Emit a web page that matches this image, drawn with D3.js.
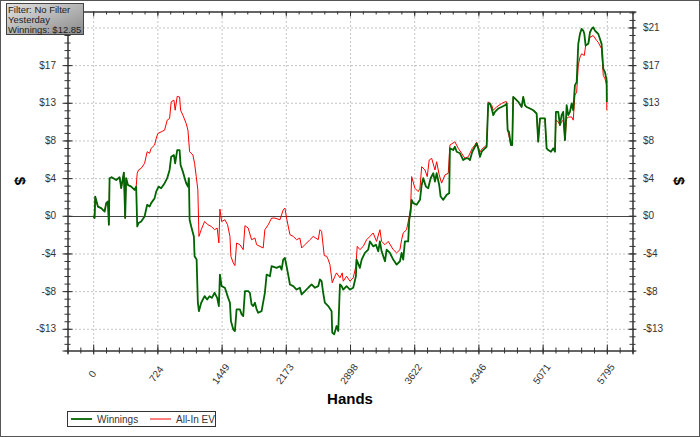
<!DOCTYPE html>
<html>
<head>
<meta charset="utf-8">
<script src="https://d3js.org/d3.v7.min.js"></script>
<style>
  body { margin: 0; background: #fff; }
  text { font-family: "Liberation Sans", Arial, sans-serif; }
  .axis path, .axis line { stroke: #333; }
  .grid line { stroke: #888; stroke-dasharray: 1,3; }
  .grid path { display: none; }
</style>
</head>
<body>
<svg id="chart" width="700" height="437"></svg>
<script>
// Chart data (hands, $)
var winnings = [
  [0,0],[16,-0.26],[23,2.17],[53,1.04],[90,0.87],[129,0.48],[147,1.43],[166,1.61],[177,-1.01],[185,4.24],
  [208,4.35],[260,4.04],[298,4.35],[316,3.11],[346,4.87],[361,-0.26],[372,4.24],[392,3.48],[429,3.29],[467,2.92],
  [485,3.29],[497,-1.2],[512,-0.82],[542,-0.64],[580,-0.08],[609,1.24],[636,1.04],[654,1.43],[693,1.99],[711,2.73],
  [738,3.29],[767,3.11],[806,3.68],[835,4.24],[862,5.17],[880,6.66],[911,6.85],[925,5.92],[948,7.42],[975,7.42],
  [986,5.73],[1012,4.98],[1049,3.68],[1069,3.29],[1080,4.24],[1088,-0.45],[1106,-1.2],[1136,-2.33],[1144,-4.57],[1167,-4.94],
  [1181,-9.81],[1193,-10.76],[1219,-9.81],[1257,-9.07],[1286,-9.45],[1313,-9.07],[1339,-9.26],[1370,-8.69],[1399,-9.26],[1418,-10.19],
  [1430,-6.63],[1449,-7.94],[1486,-8.12],[1523,-9.26],[1543,-9.81],[1554,-11.88],[1580,-12.81],[1599,-13.0],[1618,-10.56],[1655,-10.56],
  [1675,-11.12],[1693,-11.31],[1712,-8.51],[1749,-8.51],[1768,-8.69],[1787,-10.0],[1805,-10.19],[1825,-9.81],[1844,-10.56],[1862,-10.94],
  [1900,-10.76],[1937,-8.69],[1957,-6.63],[1994,-6.82],[2013,-5.69],[2069,-5.88],[2107,-5.69],[2126,-6.07],[2144,-4.94],[2163,-4.76],
  [2182,-5.69],[2200,-6.63],[2220,-7.75],[2257,-7.94],[2295,-8.32],[2332,-8.12],[2352,-8.88],[2389,-8.51],[2426,-8.12],[2464,-7.75],
  [2502,-8.12],[2539,-7.94],[2558,-7.19],[2577,-7.38],[2595,-8.69],[2614,-9.81],[2652,-10.19],[2690,-10.76],[2697,-13.18],[2719,-13.37],
  [2746,-12.44],[2765,-13.0],[2784,-7.75],[2803,-7.94],[2821,-8.32],[2859,-7.94],[2897,-8.32],[2934,-8.12],[2964,-6.82],[2972,-4.94],
  [3009,-5.88],[3029,-4.94],[3066,-4.19],[3103,-3.82],[3122,-2.89],[3159,-3.45],[3190,-3.26],[3216,-4.01],[3235,-2.89],[3254,-4.01],
  [3292,-5.13],[3311,-3.82],[3348,-4.19],[3385,-4.94],[3424,-5.51],[3461,-5.13],[3480,-4.19],[3498,-4.94],[3517,-2.89],[3554,-2.89],
  [3566,-0.45],[3582,0.48],[3593,1.8],[3611,1.43],[3649,1.24],[3687,1.8],[3706,3.48],[3724,4.24],[3754,3.29],[3780,3.11],
  [3807,4.24],[3837,4.8],[3856,3.86],[3875,4.8],[3904,3.48],[3920,2.17],[3950,1.8],[3988,2.36],[4017,2.55],[4025,7.61],
  [4062,7.42],[4081,7.79],[4101,7.23],[4138,7.05],[4175,6.29],[4206,6.48],[4232,6.48],[4251,6.29],[4277,7.23],[4307,7.79],
  [4326,8.17],[4344,7.61],[4364,6.66],[4383,7.23],[4420,7.61],[4439,7.79],[4457,12.67],[4476,12.67],[4496,12.1],[4514,11.35],
  [4533,11.72],[4552,11.91],[4570,12.1],[4608,12.28],[4646,12.47],[4665,12.67],[4676,9.66],[4691,9.47],[4713,7.98],[4728,7.98],
  [4739,13.42],[4758,13.24],[4796,12.86],[4834,12.28],[4852,13.42],[4871,12.47],[4890,12.28],[4928,12.1],[4965,11.91],[5003,11.54],
  [5021,8.35],[5041,10.98],[5097,10.98],[5116,7.61],[5134,7.42],[5165,7.23],[5191,7.61],[5210,7.23],[5221,11.72],[5247,11.72],
  [5266,10.23],[5285,11.35],[5303,11.72],[5323,8.54],[5342,12.47],[5360,11.35],[5379,11.72],[5398,12.67],[5416,11.91],[5435,14.72],
  [5455,15.09],[5473,19.4],[5492,20.53],[5511,21.09],[5529,20.9],[5541,20.53],[5556,19.21],[5586,19.4],[5605,20.71],[5624,21.09],
  [5642,21.27],[5661,20.9],[5680,20.71],[5698,20.53],[5717,19.97],[5736,19.4],[5755,16.6],[5774,16.21],[5793,15.28],[5795,12.85]
];

var allInEV = [
  [0,0],[16,-0.26],[23,2.17],[53,1.04],[90,0.87],[129,0.48],[147,1.43],[166,1.61],[177,-1.01],[185,4.24],
  [208,4.35],[260,4.04],[298,4.35],[316,3.11],[346,4.87],[361,-0.26],[372,4.24],[392,3.48],[429,3.29],[467,2.92],
  [485,3.29],[497,4.8],[512,5.17],[542,5.36],[580,5.92],[609,7.23],[636,7.05],[654,7.61],[693,7.98],[711,8.73],
  [730,9.29],[767,9.47],[806,9.67],[835,10.79],[862,10.98],[880,12.86],[911,13.05],[925,11.91],[948,13.48],[975,13.4],
  [986,11.91],[1012,11.35],[1049,10.42],[1069,9.67],[1088,7.23],[1125,6.85],[1144,5.92],[1163,4.42],[1181,2.92],[1193,-2.33],
  [1219,-1.57],[1257,-0.64],[1294,-1.01],[1332,-1.2],[1370,-1.57],[1399,-1.38],[1418,-3.07],[1430,0.75],[1449,-0.64],[1486,-0.45],
  [1516,-1.01],[1543,-2.33],[1554,-4.57],[1580,-5.32],[1599,-5.62],[1618,-3.07],[1655,-3.26],[1693,-3.82],[1712,-1.12],[1749,-1.38],
  [1787,-2.7],[1825,-2.51],[1844,-3.26],[1881,-3.45],[1918,-3.63],[1937,-1.57],[1975,-1.01],[2013,-0.26],[2050,-0.26],[2107,-0.45],
  [2144,0.67],[2163,0.87],[2182,-0.26],[2220,-2.13],[2257,-2.33],[2295,-2.7],[2332,-2.51],[2352,-3.63],[2389,-3.26],[2445,-2.7],
  [2483,-2.33],[2539,-2.7],[2558,-1.57],[2577,-1.76],[2607,-4.49],[2634,-4.57],[2652,-4.94],[2671,-5.51],[2697,-7.56],[2727,-6.82],
  [2746,-6.44],[2784,-7.0],[2810,-6.44],[2821,-7.38],[2859,-6.82],[2897,-7.38],[2934,-7.0],[2964,-5.69],[2979,-3.45],[3009,-3.82],
  [3047,-3.45],[3085,-2.7],[3122,-2.33],[3159,-1.94],[3197,-2.89],[3235,-1.57],[3254,-2.89],[3292,-3.26],[3329,-2.89],[3385,-3.82],
  [3424,-4.19],[3461,-3.82],[3480,-2.7],[3498,-1.94],[3536,-1.57],[3566,-0.08],[3582,1.04],[3593,4.42],[3630,3.11],[3667,2.73],
  [3687,3.11],[3706,5.54],[3743,5.17],[3769,4.42],[3791,6.29],[3819,6.48],[3856,5.17],[3875,6.1],[3904,4.61],[3931,3.68],
  [3969,4.61],[4006,4.8],[4025,7.98],[4081,8.35],[4119,7.61],[4157,7.05],[4194,6.48],[4232,6.66],[4277,7.61],[4307,7.98],
  [4326,8.3],[4344,7.79],[4364,7.2],[4383,7.5],[4439,7.98],[4457,12.86],[4496,12.47],[4514,11.91],[4552,12.28],[4608,12.67],
  [4646,12.86],[4665,12.86],[4676,9.66],[4713,7.98],[4728,7.98],[4739,13.42],[4758,13.24],[4796,12.86],[4834,12.28],[4852,13.42],
  [4871,12.47],[4890,12.28],[4928,12.1],[4965,11.91],[5003,11.54],[5021,8.35],[5041,10.98],[5097,10.98],[5116,7.61],[5134,7.42],
  [5165,7.23],[5191,7.61],[5210,7.23],[5221,10.79],[5247,10.6],[5266,10.23],[5285,10.6],[5303,10.79],[5323,8.54],[5342,10.98],
  [5360,11.12],[5398,11.16],[5416,10.79],[5435,13.6],[5455,13.97],[5473,16.97],[5492,17.9],[5511,18.28],[5541,18.09],[5556,19.21],
  [5586,19.4],[5605,20.15],[5642,20.34],[5680,19.78],[5698,19.58],[5736,18.84],[5755,15.84],[5774,15.47],[5793,14.72],[5795,11.91]
];

var xTickValues = [0, 724, 1449, 2173, 2898, 3622, 4346, 5071, 5795];
var yTickValues = [-12.75, -8.5, -4.25, 0, 4.25, 8.5, 12.75, 17, 21.25];
var yTickLabels = ["-$13", "-$8", "-$4", "$0", "$4", "$8", "$13", "$17", "$21"];
var infoLines = ["Filter: No Filter", "Yesterday", "Winnings: $12.85"];
var seriesNames = ["Winnings", "All-In EV"];
var seriesColors = ["#006400", "#ff0000"];

var svg = d3.select("#chart");

// Plot area edges
var plotLeft = 67.5, plotRight = 632.5, plotTop = 11.5, plotBottom = 350.5;

var x = d3.scaleLinear()
  .domain([-289.75, 6084.75])
  .range([plotLeft, plotRight]);

var y = d3.scaleLinear()
  .domain([-15.2, 23.05])
  .range([plotBottom, plotTop]);

// Minor tick steps (5 per major interval)
var xMinor = d3.range(-289.75, 6085, 724.375 / 5);
var yMinor = d3.range(-14.45, 23.05, 0.85);

// Outer border
svg.append("rect")
  .attr("x", 0.5).attr("y", 0.5)
  .attr("width", 699).attr("height", 436)
  .attr("fill", "#fff")
  .attr("stroke", "#555");

// Grid lines
svg.append("g")
  .attr("class", "grid")
  .attr("transform", `translate(0, ${plotBottom})`)
  .call(d3.axisBottom(x).tickValues(xTickValues).tickSize(-(plotBottom - plotTop)).tickFormat(""));

svg.append("g")
  .attr("class", "grid")
  .attr("transform", `translate(${plotLeft}, 0)`)
  .call(d3.axisLeft(y).tickValues(yTickValues.filter(d => d != 0)).tickSize(-(plotRight - plotLeft)).tickFormat(""));

// Zero line
svg.append("line")
  .attr("x1", plotLeft).attr("x2", plotRight)
  .attr("y1", Math.round(y(0)) + 0.5).attr("y2", Math.round(y(0)) + 0.5)
  .attr("stroke", "#444");

// Series lines
var line = d3.line()
  .x(d => x(d[0]))
  .y(d => y(d[1]));

svg.append("path")
  .datum(allInEV)
  .attr("fill", "none")
  .attr("stroke", seriesColors[1])
  .attr("stroke-width", 1)
  .attr("d", line);

svg.append("path")
  .datum(winnings)
  .attr("fill", "none")
  .attr("stroke", seriesColors[0])
  .attr("stroke-width", 1.8)
  .attr("stroke-linejoin", "round")
  .attr("d", line);

// Helper to draw an axis with crossing ticks
function drawAxis(axisFn, scale, values, transform, inner, outer, vertical) {
  let g = svg.append("g")
    .attr("class", "axis")
    .attr("transform", transform)
    .call(axisFn(scale).tickValues(values).tickSize(outer).tickFormat(""));
  if (vertical) {
    g.selectAll(".tick line").attr("x1", inner * (axisFn == d3.axisLeft ? 1 : -1));
  } else {
    g.selectAll(".tick line").attr("y1", inner * (axisFn == d3.axisBottom ? -1 : 1));
  }
  return g;
}

// Bottom axis
drawAxis(d3.axisBottom, x, xMinor, `translate(0, ${plotBottom})`, 3, 3, false);
drawAxis(d3.axisBottom, x, xTickValues, `translate(0, ${plotBottom})`, 6, 4, false);
// Top axis
drawAxis(d3.axisTop, x, xMinor, `translate(0, ${plotTop})`, 3, 0, false);
drawAxis(d3.axisTop, x, xTickValues, `translate(0, ${plotTop})`, 5, 0, false);
// Left axis
drawAxis(d3.axisLeft, y, yMinor, `translate(${plotLeft}, 0)`, 3, 3, true);
drawAxis(d3.axisLeft, y, yTickValues, `translate(${plotLeft}, 0)`, 5, 5, true);
// Right axis
drawAxis(d3.axisRight, y, yMinor, `translate(${plotRight}, 0)`, 3, 3, true);
drawAxis(d3.axisRight, y, yTickValues, `translate(${plotRight}, 0)`, 4, 4, true);

// Y tick labels; on the left the top one sits under the info box
svg.append("g").selectAll("text")
  .data(yTickValues.filter(d => y(d) > 40))
  .enter().append("text")
    .attr("x", 56)
    .attr("y", d => y(d))
    .attr("dy", "0.35em")
    .attr("text-anchor", "end")
    .attr("font-size", 10)
    .attr("fill", "#333")
    .text(d => yTickLabels[yTickValues.indexOf(d)]);

svg.append("g").selectAll("text")
  .data(yTickValues)
  .enter().append("text")
    .attr("x", 643)
    .attr("y", d => y(d))
    .attr("dy", "0.35em")
    .attr("text-anchor", "start")
    .attr("font-size", 10)
    .attr("fill", "#333")
    .text((d, i) => yTickLabels[i]);

// X tick labels, rotated
svg.append("g").selectAll("text")
  .data(xTickValues)
  .enter().append("text")
    .attr("transform", d => `translate(${x(d) - 1}, 374) rotate(-54)`)
    .attr("dy", "0.35em")
    .attr("text-anchor", "middle")
    .attr("font-size", 10)
    .attr("fill", "#333")
    .text(d => d);

// Axis titles
svg.append("text")
  .attr("x", 350).attr("y", 404)
  .attr("text-anchor", "middle")
  .attr("font-size", 15)
  .attr("font-weight", "bold")
  .text("Hands");

svg.append("text")
  .attr("transform", "translate(20, 181) rotate(90)")
  .attr("text-anchor", "middle")
  .attr("dy", "0.35em")
  .attr("font-size", 15)
  .attr("font-weight", "bold")
  .text("$");

svg.append("text")
  .attr("transform", "translate(679, 181) rotate(90)")
  .attr("text-anchor", "middle")
  .attr("dy", "0.35em")
  .attr("font-size", 15)
  .attr("font-weight", "bold")
  .text("$");

// Info box with gradient
var grad = svg.append("defs").append("linearGradient")
  .attr("id", "infoGrad")
  .attr("x1", "0%").attr("y1", "0%")
  .attr("x2", "100%").attr("y2", "100%");
grad.append("stop").attr("offset", "0%").attr("stop-color", "#e2e2e2");
grad.append("stop").attr("offset", "100%").attr("stop-color", "#8a8a8a");

svg.append("rect")
  .attr("x", 6.5).attr("y", 3.5)
  .attr("width", 77).attr("height", 31)
  .attr("fill", "url(#infoGrad)")
  .attr("stroke", "#444");

svg.append("g").selectAll("text")
  .data(infoLines)
  .enter().append("text")
    .attr("x", 8)
    .attr("y", (d, i) => 12.5 + i * 10)
    .attr("font-size", 9.5)
    .attr("fill", "#222")
    .text(d => d);

// Legend
var legend = svg.append("g").attr("class", "legend");

legend.append("rect")
  .attr("x", 67.5).attr("y", 411.5)
  .attr("width", 148).attr("height", 15)
  .attr("fill", "#fff")
  .attr("stroke", "#333");

var legendX = [71, 150];
seriesNames.forEach((name, i) => {
  legend.append("line")
    .attr("x1", legendX[i]).attr("x2", legendX[i] + 21)
    .attr("y1", 419).attr("y2", 419)
    .attr("stroke", seriesColors[i])
    .attr("stroke-width", i == 0 ? 1.8 : 1);
  legend.append("text")
    .attr("x", legendX[i] + 26)
    .attr("y", 422.5)
    .attr("font-size", 10)
    .attr("fill", "#333")
    .text(name);
});
</script>
</body>
</html>
